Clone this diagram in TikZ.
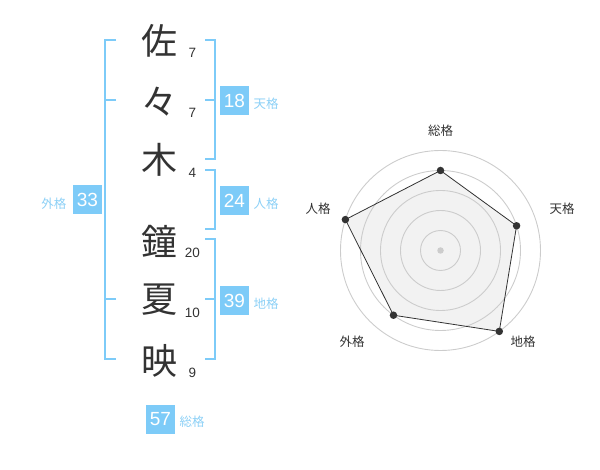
\documentclass[tikz,border=0pt]{standalone}
\usepackage{fontspec}
\setmainfont{Liberation Sans}
\newfontfamily\jp{Noto Sans CJK JP}
\usepackage{tikz}
\usetikzlibrary{calc}
\definecolor{ink}{RGB}{51,51,51}
\definecolor{kakublue}{RGB}{125,203,248}
\definecolor{kakutext}{RGB}{140,208,246}
\definecolor{ringgray}{RGB}{204,204,204}
\definecolor{areagray}{RGB}{242,242,242}
\tikzset{every picture/.append style={x=1pt,y=-1pt}}
\tikzset{kanji/.style={inner sep=0pt, text=ink, font=\jp\fontsize{36}{36}\selectfont}}
\tikzset{strokes/.style={inner sep=0pt, text=ink, font=\fontsize{13.5}{14}\selectfont}}
\tikzset{score/.style={fill=kakublue, text=white, minimum size=29pt, inner sep=0pt, font=\fontsize{19}{19}\selectfont}}
\tikzset{kaku/.style={inner sep=0pt, text=kakutext, font=\jp\fontsize{12.5}{13}\selectfont}}
\tikzset{bracket/.style={draw=kakublue, line width=2pt}}
\tikzset{ring/.style={draw=ringgray, line width=0.9pt}}
\tikzset{area/.style={fill=areagray}}
\tikzset{outline/.style={draw=ink, line width=0.8pt, line join=round}}
\tikzset{dot/.style={circle, fill=ink, inner sep=0pt, minimum size=7.5pt}}
\tikzset{hub/.style={circle, fill=ringgray, inner sep=0pt, minimum size=6.5pt}}
\tikzset{axis/.style={inner sep=0pt, text=ink, font=\jp\fontsize{12.5}{13}\selectfont}}

\begin{document}
\begin{tikzpicture}
\useasboundingbox (0,0) rectangle (600,470);
%name, one character per row
\node (c1) at (159,41)[kanji]{佐};
\node (c2) at (159,102)[kanji]{々};
\node (c3) at (159,160)[kanji]{木};
\node (c4) at (159,241)[kanji]{鐘};
\node (c5) at (159,300)[kanji]{夏};
\node (c6) at (159,361)[kanji]{映};
\node (n1) at (192.5,52.5)[strokes]{7};
\node (n2) at (192.5,113)[strokes]{7};
\node (n3) at (192.5,173)[strokes]{4};
\node (n4) at (192.5,252.5)[strokes]{20};
\node (n5) at (192.5,312.5)[strokes]{10};
\node (n6) at (192.5,373)[strokes]{9};
% brackets
\coordinate (gx) at (105,200);
\coordinate (g1) at (116,40);
\coordinate (g2) at (116,100);
\coordinate (g3) at (116,299);
\coordinate (g4) at (116,359);
\coordinate (rx) at (214.5,200);
\coordinate (t1) at (205,40);
\coordinate (t2) at (205,100);
\coordinate (t3) at (205,159);
\coordinate (j1) at (205,170);
\coordinate (j2) at (205,229);
\coordinate (d1) at (205,239);
\coordinate (d2) at (205,299);
\coordinate (d3) at (205,359);
\draw[bracket] (g1)--(g1-|gx)--(g4-|gx)--(g4);
\draw[bracket] (g2)--(g2-|gx);
\draw[bracket] (g3)--(g3-|gx);
\draw[bracket] (t1)--(t1-|rx)--(t3-|rx)--(t3);
\draw[bracket] (t2)--(t2-|rx);
\draw[bracket] (j1)--(j1-|rx)--(j2-|rx)--(j2);
\draw[bracket] (d1)--(d1-|rx)--(d3-|rx)--(d3);
\draw[bracket] (d2)--(d2-|rx);
% scores
\node (ten) at (234.5,100.5)[score]{18};
\node (jin) at (234.5,200.5)[score]{24};
\node (chi) at (234.5,300.5)[score]{39};
\node (gai) at (87.5,200)[score]{33};
\node (sou) at (160.5,419)[score]{57};
\node (tenl) at (266,103.5)[kaku]{天格};
\node (jinl) at (266,203.5)[kaku]{人格};
\node (chil) at (266,303.5)[kaku]{地格};
\node (gail) at (54,203.5)[kaku]{外格};
\node (soul) at (192,422)[kaku]{総格};
% radar chart
\coordinate (c) at (440.5,250.5);
\coordinate (vsou) at ($(c)+(-90:80)$);
\coordinate (vten) at ($(c)+(-18:80)$);
\coordinate (vchi) at ($(c)+(54:100)$);
\coordinate (vgai) at ($(c)+(126:80)$);
\coordinate (vjin) at ($(c)+(198:100)$);
\fill[area] (vsou)--(vten)--(vchi)--(vgai)--(vjin)--cycle;
\draw[ring] (c) circle[radius=20pt];
\draw[ring] (c) circle[radius=40pt];
\draw[ring] (c) circle[radius=60pt];
\draw[ring] (c) circle[radius=80pt];
\draw[ring] (c) circle[radius=100pt];
\draw[outline] (vsou)--(vten)--(vchi)--(vgai)--(vjin)--cycle;
\node (dsou) at (vsou)[dot]{};
\node (dten) at (vten)[dot]{};
\node (dchi) at (vchi)[dot]{};
\node (dgai) at (vgai)[dot]{};
\node (djin) at (vjin)[dot]{};
\node (hub) at (c)[hub]{};
\node (asou) at (440.5,130.5)[axis]{総格};
\node (aten) at (562,209)[axis]{天格};
\node (achi) at (523,342)[axis]{地格};
\node (agai) at (352,342)[axis]{外格};
\node (ajin) at (318,209)[axis]{人格};
\end{tikzpicture}
\end{document}
